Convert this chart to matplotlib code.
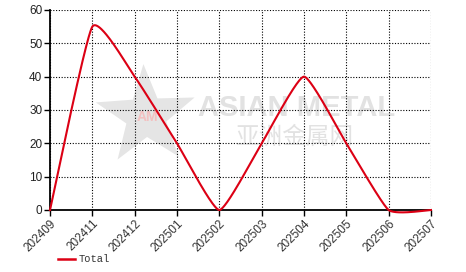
import numpy as np
import matplotlib
matplotlib.use("Agg")
import matplotlib.pyplot as plt
from matplotlib.patches import Polygon

categories = ["202409", "202411", "202412", "202501", "202502",
              "202503", "202504", "202505", "202506", "202507"]
total = [0, 55, 40, 20, 0, 20, 40, 20, 0, 0]
y_ticks = [0, 10, 20, 30, 40, 50, 60]

W, H = 466, 272
AX_L, AX_R, AX_T, AX_B = 50, 431, 10, 210
fig = plt.figure(figsize=(W / 100, H / 100), dpi=100, facecolor="white")
ax = fig.add_axes([AX_L / W, 1 - AX_B / H, (AX_R - AX_L) / W, (AX_B - AX_T) / H])


def afr(px, py):
    return ((px - AX_L) / (AX_R - AX_L), (AX_B - py) / (AX_B - AX_T))


# smoothed curve: cardinal-type bezier segments through the data points
xs = np.arange(len(categories), dtype=float)
ys = np.array(total, dtype=float)
n = len(xs)
k = 0.08
dx = np.zeros(n)
dy = np.zeros(n)
for i in range(n):
    if i == 0:
        dx[i], dy[i] = xs[1] - xs[0], ys[1] - ys[0]
    elif i == n - 1:
        dx[i], dy[i] = xs[-1] - xs[-2], ys[-1] - ys[-2]
    else:
        dx[i], dy[i] = xs[i + 1] - xs[i - 1], ys[i + 1] - ys[i - 1]
t = np.linspace(0, 1, 80)
b0, b1, b2, b3 = (1 - t) ** 3, 3 * (1 - t) ** 2 * t, 3 * (1 - t) * t ** 2, t ** 3
cx, cy = [], []
for i in range(n - 1):
    x0, y0 = xs[i], ys[i]
    x3, y3 = xs[i + 1], ys[i + 1]
    x1, y1 = x0 + k * dx[i], y0 + k * dy[i]
    x2, y2 = x3 - k * dx[i + 1], y3 - k * dy[i + 1]
    cx.extend(b0 * x0 + b1 * x1 + b2 * x2 + b3 * x3)
    cy.extend(b0 * y0 + b1 * y1 + b2 * y2 + b3 * y3)

# watermark
star_c = (146, 116)
r_out, r_in = 52, 21
pts = []
for j in range(10):
    ang = np.pi / 2 + j * np.pi / 5 + 0.05
    r = r_out if j % 2 == 0 else r_in
    pts.append(afr(star_c[0] + r * np.cos(ang), star_c[1] - r * np.sin(ang)))
ax.add_patch(Polygon(pts, closed=True, transform=ax.transAxes,
                     facecolor="#e5e5e5", edgecolor="none", zorder=0))
ax.text(*afr(147, 117), "AM", transform=ax.transAxes, fontsize=10,
        color="#f3c0c0", ha="center", va="center", fontweight="bold",
        family="Liberation Sans", zorder=0)
ax.text(*afr(198, 108), "ASIAN METAL", transform=ax.transAxes, fontsize=21,
        fontweight="bold", color="#e2e2e2", ha="left", va="center",
        family="Liberation Sans", zorder=0)
ax.text(*afr(295, 137), "亚洲金属网", transform=ax.transAxes, fontsize=17,
        color="#e2e2e2", ha="center", va="center",
        family=["Noto Sans CJK SC", "DejaVu Sans"], zorder=0)

ax.plot(cx, cy, color="#dc0014", lw=1.5, zorder=3, clip_on=False)

ax.set_xlim(0, len(categories) - 1)
ax.set_ylim(0, 60)
ax.set_xticks(xs)
ax.set_xticklabels(categories, rotation=45, ha="right", va="top",
                   rotation_mode="anchor", fontsize=8.5, color="#333333",
                   family="Liberation Sans")
ax.set_yticks(y_ticks)
ax.set_yticklabels([str(v) for v in y_ticks], fontsize=8.5, color="#222222",
                   family="Liberation Sans")
ax.tick_params(axis="both", direction="out", length=4, width=1, color="black", pad=1.5)
ax.grid(True, color="black", linestyle=(0, (1, 1.5)), linewidth=0.8)
for s in ["top", "right"]:
    ax.spines[s].set_visible(False)
ax.spines["left"].set_linewidth(1.3)
ax.spines["bottom"].set_linewidth(1.3)
ax.set_facecolor("white")

# legend
fig.lines.append(plt.Line2D([58 / W, 75 / W], [1 - 259 / H, 1 - 259 / H],
                            transform=fig.transFigure, color="#dc0014", lw=1.8))
fig.text(79 / W, 1 - 259 / H, "Total", fontsize=7.5, family="Liberation Mono",
         color="#333333", ha="left", va="center")

fig.savefig("out.png", dpi=100, facecolor="white")
